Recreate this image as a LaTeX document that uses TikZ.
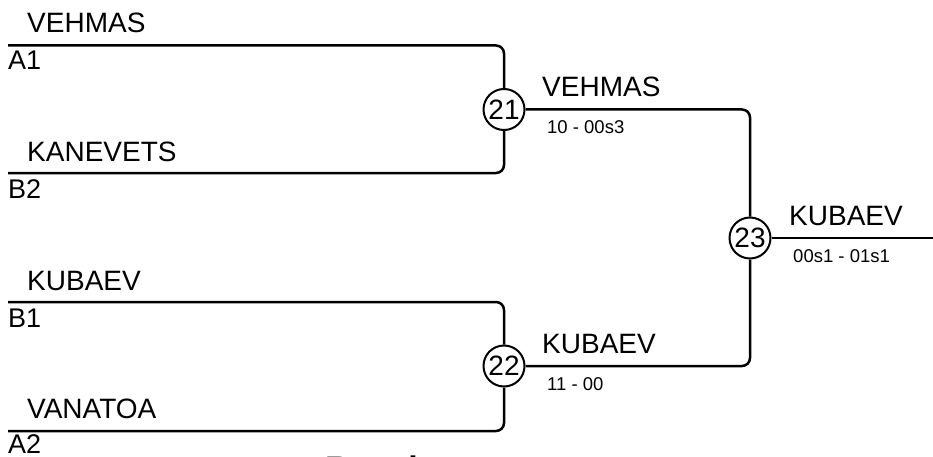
\documentclass[tikz,border=0pt]{standalone}
\usepackage{fontspec}
\setmainfont{Liberation Sans}
\begin{document}
\begin{tikzpicture}
		[x=1pt,y=-1pt,
		match/.style={circle,draw,line width=2pt,inner sep=0pt,minimum size=41pt,
font=\fontsize{28}{30}\selectfont},
		player/.style={anchor=base west,inner sep=0pt,font=\fontsize{28}{30}\selectfont},
		seed/.style={anchor=base west,inner sep=0pt,font=\fontsize{27}{30}\selectfont},
		score/.style={anchor=base west,inner sep=0pt,font=\fontsize{18.5}{22}\selectfont},
		wire/.style={-,line width=2.5pt},
		bracket/.style={wire,rounded corners=8pt,to path={|- (\tikztotarget)}}]
		\clip (0,0) rectangle (933,457);
		% first round
		\coordinate (a1) at (8,45.5);
		\coordinate (b2) at (8,173);
		\coordinate (b1) at (8,302);
		\coordinate (a2) at (8,431);
		\node at (27,33) (pa1) [player] {VEHMAS};
		\node at (8,70) (sa1) [seed] {A1};
		\node at (27,161.5) (pb2) [player] {KANEVETS};
		\node at (8,198) (sb2) [seed] {B2};
		\node at (27,290) (pb1) [player] {KUBAEV};
		\node at (8,327) (sb1) [seed] {B1};
		\node at (27,418.5) (pa2) [player] {VANATOA};
		\node at (8,453.5) (sa2) [seed] {A2};
		% matches
		\node at (504,109.5) (m21) [match] {21}
			edge [bracket] (a1)
			edge [bracket] (b2);
		\node at (504,366) (m22) [match] {22}
			edge [bracket] (b1)
			edge [bracket] (a2);
		\node at (750,238) (m23) [match] {23}
			edge [bracket] (m21)
			edge [bracket] (m22);
		\coordinate (final) at (933,238);
		\draw [wire] (m23) -- (final);
		% winners
		\node at (542,97) (w21) [player] {VEHMAS};
		\node at (547,133.5) (r21) [score] {10 - 00s3};
		\node at (542,353.5) (w22) [player] {KUBAEV};
		\node at (547,390) (r22) [score] {11 - 00};
		\node at (789,225) (w23) [player] {KUBAEV};
		\node at (793,262) (r23) [score] {00s1 - 01s1};
		\node at (325,480) (title) [anchor=base west,inner sep=0pt,
font=\fontsize{34}{40}\selectfont\bfseries] {Results};
	\end{tikzpicture}
\end{document}
